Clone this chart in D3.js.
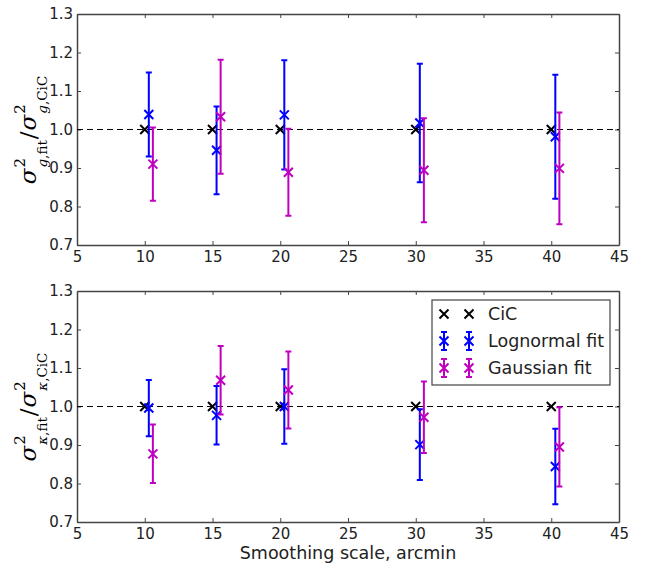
<!DOCTYPE html>
<html>
<head>
<meta charset="utf-8">
<script src="https://cdn.jsdelivr.net/npm/d3@7"></script>
<style>
  body { margin: 0; background: #fff; }
  svg { display: block; font-family: "DejaVu Sans", sans-serif; }
</style>
</head>
<body>
<svg id="canvas" width="652" height="566"></svg>
<script>
// smoothing scales (arcmin) and x shifts used for each series
let scales = [10, 15, 20, 30, 40];
let xShift = { cic: 0, logn: 0.3, gauss: 0.6 };

let xTicks = [5, 10, 15, 20, 25, 30, 35, 40, 45];
let yTicks = [0.7, 0.8, 0.9, 1.0, 1.1, 1.2, 1.3];

// top panel: galaxies
let cicGal = [1, 1, 1, 1, 1];
let lognGal = [1.039, 0.946, 1.038, 1.017, 0.981];
let lognGalErr = [0.109, 0.114, 0.142, 0.154, 0.161];
let gaussGal = [0.910, 1.033, 0.889, 0.894, 0.899];
let gaussGalErr = [0.095, 0.148, 0.113, 0.135, 0.145];

// bottom panel: convergence
let cicKap = [1, 1, 1, 1, 1];
let lognKap = [0.996, 0.977, 1.0, 0.901, 0.844];
let lognKapErr = [0.073, 0.076, 0.097, 0.092, 0.098];
let gaussKap = [0.877, 1.068, 1.043, 0.972, 0.895];
let gaussKapErr = [0.076, 0.089, 0.100, 0.093, 0.103];

let legendLabels = ['CiC', 'Lognormal fit', 'Gaussian fit'];

let blue = '#0000ff';
let magenta = '#bf00bf';
let frame = '#444';

let svg = d3.select('#canvas');
let left = 77, right = 619;

let x = d3.scaleLinear().domain([5, 45]).range([left, right]);

let cross = (g, cx, cy, color) => {
  let s = 4.5;
  g.append('path')
    .attr('d', `M${cx - s},${cy - s}L${cx + s},${cy + s}M${cx - s},${cy + s}L${cx + s},${cy - s}`)
    .attr('stroke', color)
    .attr('stroke-width', 2)
    .attr('fill', 'none');
};

let errBar = (g, cx, y0, y1, color) => {
  let c = 3;
  g.append('path')
    .attr('d', `M${cx},${y0}V${y1}M${cx - c},${y0}H${cx + c}M${cx - c},${y1}H${cx + c}`)
    .attr('stroke', color)
    .attr('stroke-width', 2)
    .attr('fill', 'none');
};

// rotated math label: sigma^2_{sym,fit} / sigma^2_{sym,CiC}
let mathLabel = (cx, cy, sym) => {
  let g = svg.append('g');
  let inner = g.append('g');
  let pos = 0;
  let put = (txt, size, base, advance) => {
    let t = inner.append('text')
      .attr('x', pos)
      .attr('y', base)
      .attr('font-family', '"DejaVu Serif", serif')
      .attr('font-size', size)
      .attr('fill', '#000');
    txt.forEach((p) => {
      t.append('tspan').attr('font-style', p[1]).text(p[0]);
    });
    let w = t.node().getComputedTextLength();
    if (advance) pos += w;
    return w;
  };
  let term = (subRest) => {
    put([['σ', 'italic']], 23, 0, true);
    pos += 1;
    let w1 = put([['2', 'normal']], 15, -11, false);
    let w2 = put([[sym, 'italic'], [',' + subRest, 'normal']], 13.5, 11, false);
    pos += Math.max(w1, w2) + 1;
  };
  term('fit');
  put([['/', 'normal']], 23, 0, true);
  pos += 1;
  term('CiC');
  inner.attr('transform', `translate(${-pos / 2},0)`);
  g.attr('transform', `translate(${cx},${cy}) rotate(-90)`);
};

let drawPanel = (top, bottom, cic, logn, lognErr, gauss, gaussErr, sym) => {
  let y = d3.scaleLinear().domain([0.7, 1.3]).range([bottom, top]);
  let g = svg.append('g');

  // ticks on all four sides, pointing inward
  g.append('g').attr('transform', `translate(0,${bottom})`)
    .call(d3.axisBottom(x).tickValues(xTicks).tickSizeInner(-4).tickSizeOuter(0).tickPadding(6)
      .tickFormat(d3.format('d')));
  g.append('g').attr('transform', `translate(0,${top})`)
    .call(d3.axisTop(x).tickValues(xTicks).tickSizeInner(-4).tickSizeOuter(0).tickFormat(''));
  g.append('g').attr('transform', `translate(${left},0)`)
    .call(d3.axisLeft(y).tickValues(yTicks).tickSizeInner(-4).tickSizeOuter(0).tickPadding(4)
      .tickFormat(d3.format('.1f')));
  g.append('g').attr('transform', `translate(${right},0)`)
    .call(d3.axisRight(y).tickValues(yTicks).tickSizeInner(-4).tickSizeOuter(0).tickFormat(''));

  g.selectAll('.tick line').attr('stroke', frame).attr('stroke-width', 1);
  g.selectAll('.domain').attr('stroke', frame).attr('stroke-width', 1.5);
  g.selectAll('.tick text')
    .attr('font-family', '"DejaVu Sans", sans-serif')
    .attr('font-size', 15)
    .attr('fill', '#222');

  // reference line at 1
  g.append('line')
    .attr('x1', left).attr('x2', right)
    .attr('y1', y(1)).attr('y2', y(1))
    .attr('stroke', '#000')
    .attr('stroke-width', 1)
    .attr('stroke-dasharray', '6,4');

  scales.forEach((s, i) => {
    cross(g, x(s + xShift.cic), y(cic[i]), '#000');
    let xl = x(s + xShift.logn);
    errBar(g, xl, y(logn[i] + lognErr[i]), y(logn[i] - lognErr[i]), blue);
    cross(g, xl, y(logn[i]), blue);
    let xg = x(s + xShift.gauss);
    errBar(g, xg, y(gauss[i] + gaussErr[i]), y(gauss[i] - gaussErr[i]), magenta);
    cross(g, xg, y(gauss[i]), magenta);
  });

  mathLabel(36, (top + bottom) / 2, sym);
  return y;
};

drawPanel(14, 245, cicGal, lognGal, lognGalErr, gaussGal, gaussGalErr, 'g');
drawPanel(291, 522, cicKap, lognKap, lognKapErr, gaussKap, gaussKapErr, 'κ');

svg.append('text')
  .attr('x', (left + right) / 2)
  .attr('y', 559)
  .attr('text-anchor', 'middle')
  .attr('font-size', 17.5)
  .attr('fill', '#222')
  .text('Smoothing scale, arcmin');

// legend
let lg = svg.append('g');
lg.append('rect')
  .attr('x', 432).attr('y', 300)
  .attr('width', 178).attr('height', 85)
  .attr('fill', '#fff')
  .attr('stroke', frame)
  .attr('stroke-width', 1.2);
let legendColors = ['#000', blue, magenta];
legendLabels.forEach((lab, i) => {
  let cy = 314 + i * 27;
  [444, 469].forEach((cx) => {
    if (i > 0) errBar(lg, cx, cy - 9, cy + 9, legendColors[i]);
    cross(lg, cx, cy, legendColors[i]);
  });
  lg.append('text')
    .attr('x', 488)
    .attr('y', cy)
    .attr('dy', '0.36em')
    .attr('font-size', 17.5)
    .attr('fill', '#222')
    .text(lab);
});
</script>
</body>
</html>
